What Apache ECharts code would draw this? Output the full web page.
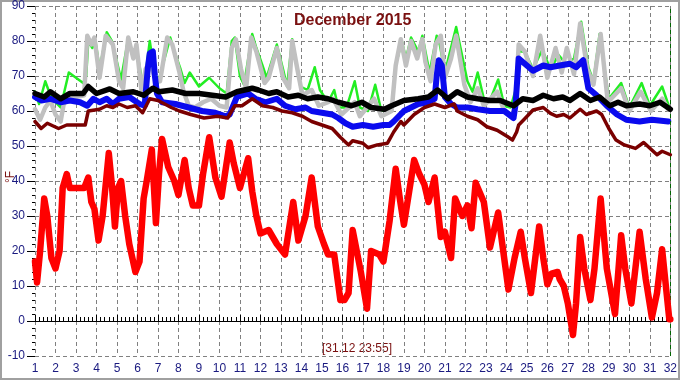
<!DOCTYPE html>
<html>
<head>
<meta charset="utf-8">
<title>December 2015</title>
<script src="https://cdn.jsdelivr.net/npm/echarts@6/dist/echarts.min.js"></script>
<style>
  html, body { margin: 0; padding: 0; background: #fff; }
  #chart { width: 680px; height: 380px; }
</style>
</head>
<body>
<div id="chart"></div>
<script>
// readings: [day of month, °F]
var greenTemp = [[1,65.5],[1.2,62],[1.5,68.5],[1.75,64.5],[2.0,62.5],[2.25,61],[2.65,71],[3.0,69.5],[3.35,68],[3.5,70],[3.6,80],[3.8,78],[3.95,80],[4.15,72],[4.5,82.5],[4.75,80],[5.0,74],[5.2,69],[5.55,80.8],[5.8,75],[5.95,78],[6.3,66],[6.6,80],[6.8,72],[7.0,68],[7.6,81],[7.8,77],[8.1,72],[8.3,68],[8.55,71],[9.0,67],[9.5,69.5],[10.0,66.5],[10.35,65],[10.6,80],[10.75,81],[11.0,70],[11.2,67.5],[11.6,82],[11.8,78],[12.1,73],[12.3,69.5],[12.8,79],[13.1,72],[13.3,67],[13.55,80.5],[13.95,67],[14.3,66],[14.65,72.5],[14.9,66],[15.3,62.5],[15.6,66],[15.8,61],[16.2,61],[16.6,68.5],[16.85,61],[17.25,60],[17.6,67.5],[17.9,60],[18.4,61],[18.6,73],[18.9,80],[19.1,75],[19.35,81],[19.7,77],[19.9,81.5],[20.25,71],[20.6,81.5],[20.75,79],[21.0,71],[21.55,84],[22.1,68.5],[22.35,65.5],[22.6,71],[22.9,63.5],[23.2,63],[23.6,69],[23.9,61.5],[24.2,61],[24.45,66],[24.6,77],[24.9,77],[25.3,72],[25.75,77.5],[26.15,72],[26.55,76],[26.9,73.5],[27.3,75],[27.65,85.5],[28.0,72.5],[28.25,68.5],[28.55,82],[29.0,63.5],[29.6,68],[30.0,61],[30.6,68],[31.0,61.5],[31.6,67],[31.95,61]];

var grayTemp = [[1,60.5],[1.25,57.5],[1.5,61],[1.75,63],[2.0,59],[2.25,57],[2.4,62],[2.7,64],[3.0,64],[3.4,64.5],[3.55,81.5],[3.75,79],[3.9,81],[4.15,69.5],[4.45,81.5],[4.8,79],[5.1,68.5],[5.3,66.5],[5.55,81],[5.8,75],[5.95,79],[6.2,65.5],[6.4,72],[6.6,74],[6.85,69.5],[7.1,68.5],[7.45,81],[7.7,79],[8.05,71],[8.25,65.5],[8.5,61.5],[8.8,61],[9.2,62.5],[9.6,63.5],[10.0,61.5],[10.35,61],[10.6,78],[10.8,80.5],[11.05,72],[11.3,66.5],[11.55,81],[11.8,77],[12.2,68],[12.4,69.5],[12.8,78],[13.1,69.5],[13.4,66.5],[13.55,80],[13.8,72],[14.05,64.5],[14.5,66],[14.85,61.5],[15.3,62.5],[15.55,63.5],[15.95,59],[16.6,62.5],[16.85,58.5],[17.55,63.5],[17.9,58.5],[18.4,60],[18.6,73],[18.85,80.5],[19.1,73],[19.35,80],[19.65,75],[19.9,80.5],[20.05,74],[20.3,68.5],[20.55,79],[20.8,81.5],[21.0,69.5],[21.3,75],[21.55,81.5],[21.95,67.5],[22.25,62.5],[22.6,66.5],[22.9,61.5],[23.55,65.5],[23.9,60],[24.3,58.5],[24.45,62],[24.6,79],[24.9,77],[25.3,70],[25.65,81.5],[26.0,69.5],[26.4,78],[26.7,71],[26.95,78],[27.3,70.5],[27.6,85],[27.95,72],[28.25,67.5],[28.6,82],[28.95,62.5],[29.6,66.5],[30.0,60],[30.55,65.5],[31.05,60],[31.6,63.5],[31.9,60.5]];

var blueTemp = [[1,64],[1.3,63],[1.75,63.5],[2.25,62.5],[2.7,63],[3.2,62.5],[3.55,61.5],[3.85,63.5],[4.15,62.5],[4.5,63.5],[4.8,62],[5.1,63.5],[5.6,64],[6.1,62],[6.35,61.5],[6.5,72],[6.6,76.5],[6.75,77],[6.85,70],[6.95,65],[7.2,62.5],[7.85,62],[8.5,61],[9.15,60],[9.8,59.5],[10.3,58.5],[10.5,59],[10.6,60.5],[10.85,64],[11.4,65],[11.75,63.5],[12.25,62.5],[12.8,63.5],[13.2,61.5],[13.7,60.5],[14.2,61],[14.5,60],[15.0,59.5],[15.5,59],[15.8,58],[16.15,56.5],[16.5,55.5],[17.0,56],[17.5,55.5],[18.0,56],[18.3,56],[18.5,57],[19.0,60],[19.7,62],[20.15,62.5],[20.5,63.5],[20.6,70],[20.7,74.5],[20.85,73],[21.0,64],[21.3,62],[21.6,61],[22.1,61],[22.6,60.5],[23.2,60],[23.9,60],[24.35,58],[24.45,62],[24.6,75],[24.9,73.5],[25.3,71.5],[25.8,73],[26.15,72.5],[26.6,73],[27.1,73.5],[27.4,72.5],[27.75,74.5],[28.0,66.5],[28.4,64.5],[28.9,61.5],[29.4,59],[29.85,57.5],[30.5,57],[31.1,57.5],[31.9,57]];

var maroonTemp = [[1,57],[1.3,55],[1.6,56.5],[2.15,55],[2.55,56],[3.45,56],[3.6,60],[4.15,60.5],[4.5,61.5],[4.8,61],[5.1,62],[5.5,61],[5.9,61.5],[6.25,59.5],[6.6,63.5],[7.0,63],[7.65,61],[8.05,60],[8.6,59],[9.25,58],[9.9,58.5],[10.4,58],[10.75,61.5],[11.1,61.5],[11.6,63.5],[12.1,61.5],[12.6,61],[13.05,60],[13.55,59.5],[14.05,58.5],[14.5,57],[15.0,56],[15.5,55],[15.9,52.5],[16.3,50.3],[16.5,51.5],[17.0,50.8],[17.25,49.5],[17.7,50.3],[18.2,50.8],[18.5,54],[18.85,57],[19.0,56],[19.5,59],[20.0,61],[20.5,62],[21.0,61],[21.45,62],[21.6,60],[22.1,58.5],[22.6,57.5],[23.05,55.5],[23.55,54.5],[24.05,52.7],[24.3,51.7],[24.5,54],[24.6,56],[24.85,57.5],[25.3,60.3],[25.8,61],[26.15,59.3],[26.45,58.5],[26.8,59],[27.1,58],[27.6,60.5],[27.9,59],[28.4,60],[28.65,59],[29.0,55],[29.35,51.7],[29.75,50.3],[30.3,49.3],[30.7,51],[31.35,47.5],[31.6,48.5],[32,47.5]];

var blackTemp = [[1,65],[1.45,64],[1.75,65.5],[2.25,63.5],[2.7,65],[3.35,65],[3.6,67],[4.0,65],[4.65,66.3],[5.1,65],[5.8,65.5],[6.3,64.5],[6.75,66.5],[7.05,65.5],[7.7,66],[8.35,65],[9.0,65],[9.65,64.5],[10.3,64],[10.85,65.5],[11.6,66.5],[11.9,66],[12.4,65],[12.8,65.5],[13.35,64],[13.85,64.5],[14.3,63.5],[14.8,64],[15.3,63.5],[15.8,62.5],[16.45,61.5],[16.95,62.5],[17.4,61],[18.05,60.5],[18.4,61.5],[19.0,63],[19.7,63.5],[20.2,64],[20.65,66],[21.15,63.5],[21.6,65.5],[22.1,64],[22.6,63.5],[23.2,63],[23.7,63],[24.35,61.5],[24.8,63.5],[25.3,63],[25.8,64.5],[26.3,63.5],[26.75,64],[27.1,63],[27.6,65],[28.1,63],[28.55,64],[29.05,61.5],[29.45,62.5],[29.85,61.5],[30.5,62],[31.0,61.5],[31.5,62.5],[32,60.5]];

var redTemp = [[1.0,17],[1.1,11],[1.25,20],[1.45,35],[1.6,30],[1.8,18],[2.0,15],[2.2,20],[2.35,38],[2.55,42],[2.7,38],[3.0,38],[3.4,38],[3.6,41],[3.75,34],[3.9,32],[4.1,23],[4.3,30],[4.6,48],[4.75,39],[4.9,27],[5.05,38],[5.2,40],[5.4,30],[5.6,22],[5.9,14],[6.1,17],[6.3,35],[6.45,40],[6.7,49],[6.9,28],[7.05,42],[7.2,52],[7.5,44],[7.8,40],[8.0,36],[8.3,46],[8.5,38],[8.7,33],[9.0,33],[9.2,42],[9.5,52.5],[9.8,41],[10.1,35.5],[10.5,51],[10.7,45],[11.0,38],[11.4,46.5],[11.6,37],[11.8,30],[12.0,25],[12.4,26],[12.8,22],[13.2,19],[13.6,34],[13.85,23],[14.2,30],[14.5,41],[14.8,27],[15.1,22],[15.3,19],[15.6,19],[15.9,6],[16.1,6],[16.3,8],[16.5,26],[16.7,20],[16.9,14],[17.2,3.5],[17.4,20],[17.8,19],[18.0,17],[18.3,28.5],[18.6,43.5],[18.8,35],[19.0,27.5],[19.5,46],[19.75,42],[20.0,39],[20.2,34],[20.5,41],[20.8,24],[21.0,25.5],[21.3,18],[21.5,35],[21.85,30],[22.1,33],[22.3,26.5],[22.5,39.5],[22.9,34],[23.2,21],[23.6,31],[23.8,22],[24.1,9],[24.4,18],[24.7,25.5],[24.9,18],[25.2,8],[25.6,27],[25.8,18],[26.0,10.5],[26.2,13.5],[26.5,14],[26.6,12],[26.8,10],[27.0,5],[27.25,-4],[27.4,5],[27.6,24],[27.8,15],[28.1,6],[28.3,15],[28.6,35],[28.9,15],[29.3,2],[29.6,24.5],[29.8,15],[30.1,5],[30.5,25.5],[30.8,12],[31.1,1],[31.35,8],[31.6,20.5],[31.8,9],[31.95,0.5],[32,0.5]];

var titleText = 'December 2015';
var unitText = '°F';
var stampText = '[31.12 23:55]';

var chart = echarts.init(document.getElementById('chart'));

function line(data, color, width, z) {
    return {
        type: 'line',
        data: data,
        showSymbol: false,
        symbol: 'none',
        z: z,
        lineStyle: { color: color, width: width, cap: 'round', join: 'round' },
        itemStyle: { color: color }
    };
}

var blackSeries = line(blackTemp, '#000000', 5.5, 6);
blackSeries.markLine = {
    silent: true,
    symbol: 'none',
    label: { show: false },
    lineStyle: { color: '#006400', type: [4, 3], width: 1 },
    data: [{ xAxis: 32 }]
};

chart.setOption({
    animation: false,
    textStyle: { fontFamily: 'Liberation Sans, Arial, sans-serif' },
    grid: { left: 35, right: 5, top: 4, bottom: 24 },
    title: {
        text: titleText,
        left: 289,
        top: 8,
        textStyle: { color: '#7a1010', fontSize: 16, fontWeight: 'bold' }
    },
    xAxis: {
        type: 'value',
        min: 1,
        max: 32,
        interval: 1,
        axisLine: { show: true, lineStyle: { color: '#000', width: 1 } },
        axisTick: { show: true, inside: true, length: 6, lineStyle: { color: '#000' } },
        minorTick: { show: true, splitNumber: 5, length: 4, lineStyle: { color: '#000' } },
        axisLabel: { color: '#1a1a80', fontSize: 12, margin: 7 },
        splitLine: { show: true, lineStyle: { color: '#808080', type: [4, 3], width: 1 } }
    },
    yAxis: {
        type: 'value',
        min: -10,
        max: 90,
        interval: 10,
        axisLine: { show: false },
        axisTick: { show: true, length: 8, lineStyle: { color: '#000' } },
        minorTick: { show: true, splitNumber: 5, length: 3, lineStyle: { color: '#000' } },
        axisLabel: { color: '#1a1a80', fontSize: 12, margin: 10 },
        splitLine: { show: true, lineStyle: { color: '#808080', type: [4, 3], width: 1 } }
    },
    graphic: [
        {
            type: 'rect',
            shape: { x: 1, y: 1, width: 678, height: 378 },
            style: { fill: 'none', stroke: '#a0a0a0', lineWidth: 2 },
            silent: true
        },
        {
            type: 'text',
            x: 11,
            y: 177,
            rotation: Math.PI / 2,
            style: {
                text: unitText,
                fill: '#7a1010',
                font: '12px Liberation Sans, Arial, sans-serif',
                align: 'center',
                verticalAlign: 'middle'
            }
        },
        {
            type: 'text',
            x: 357,
            y: 349,
            style: {
                text: stampText,
                fill: '#7a1010',
                font: '12px Liberation Sans, Arial, sans-serif',
                align: 'center',
                verticalAlign: 'middle'
            }
        }
    ],
    series: [
        line(greenTemp, '#22ee22', 2.5, 2),
        line(grayTemp, '#c0c0c0', 4.5, 3),
        line(blueTemp, '#0a0aee', 6, 4),
        line(maroonTemp, '#7a0000', 3.5, 5),
        blackSeries,
        line(redTemp, '#ff0000', 6.5, 7)
    ]
});
</script>
</body>
</html>
